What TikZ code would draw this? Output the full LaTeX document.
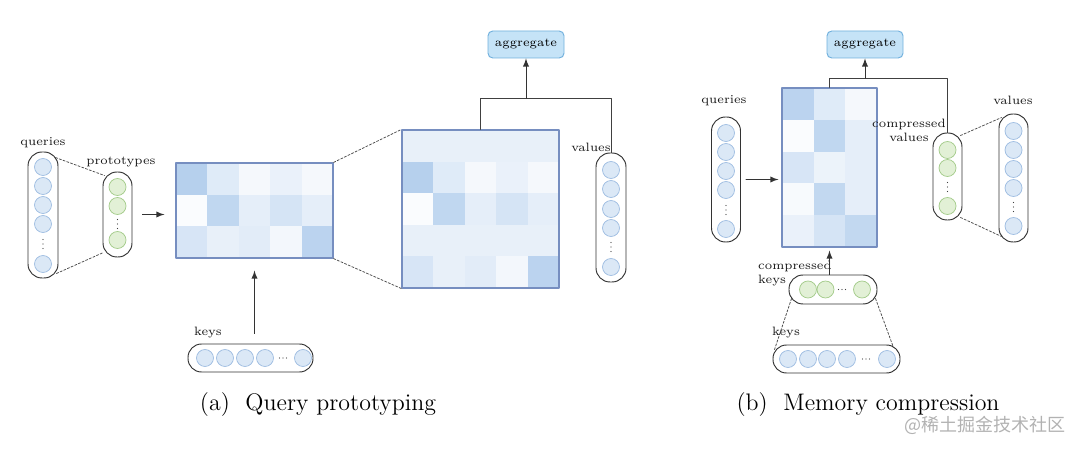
\documentclass[tikz,border=0pt]{standalone}
\usepackage{fontspec}
\usetikzlibrary{calc}
\newfontfamily\cjk{Noto Sans CJK SC}

\newcommand{\pxu}{0.018519cm}
\definecolor{cellb}{RGB}{150,188,230}
\definecolor{mborder}{RGB}{118,142,192}
\definecolor{qfill}{RGB}{219,232,246}
\definecolor{qline}{RGB}{160,190,226}
\definecolor{pfill}{RGB}{226,240,214}
\definecolor{pline}{RGB}{165,204,140}
\definecolor{aggfill}{RGB}{197,227,247}
\definecolor{aggline}{RGB}{112,176,221}

% small dots inside the vectors
\newcommand{\vdotsat}[2]{\foreach \d in {-1,0,1} \fill[black!75] (#1,#2+4.5*\d) circle (0.35pt);}
\newcommand{\hdotsat}[2]{\foreach \d in {-1,0,1} \fill[black!75] (#1+3.5*\d,#2) circle (0.35pt);}

\begin{document}
\begin{tikzpicture}
      [line cap=round,line join=round,x=0.018519cm,y=-0.018519cm,
       vec/.style={draw=black!80,line width=0.5pt,rounded corners=14*\pxu,inner sep=0pt},
       qcirc/.style={circle,draw=qline,fill=qfill,line width=0.4pt,minimum size=17*\pxu,inner sep=0pt},
       pcirc/.style={qcirc,draw=pline,fill=pfill},
       lbl/.style={font=\fontsize{6.4}{7.4}\selectfont,text=black!90,inner sep=1pt},
       mat/.style={draw=mborder,line width=0.6pt,inner sep=0pt},
       aggbox/.style={draw=aggline,fill=aggfill,line width=0.5pt,rounded corners=2.5pt,
         minimum width=76*\pxu,minimum height=27*\pxu,inner sep=0pt,font=\fontsize{6.4}{7.4}\selectfont},
       conn/.style={draw=black!75,line width=0.5pt},
       flow/.style={-latex,draw=black!80,line width=0.5pt},
       zoomline/.style={draw=black!70,line width=0.4pt,dash pattern=on 1.2pt off 0.9pt},
       capt/.style={font=\fontsize{12.6}{14}\selectfont,inner sep=0pt}]
\useasboundingbox (0,0) rectangle (1080,449);

%%%%%%%%%% (a) query prototyping

%queries and prototypes
  \node[vec,minimum width=30*\pxu,minimum height=126*\pxu] (q1) at (43,215) {};
  \foreach \yy [count=\n] in {167,186,205,224,264} \node[qcirc] (q1\n) at (43,\yy) {};
  \vdotsat{43}{244}
  \node[lbl] (q1l) at (43,143) {queries};

  \node[vec,minimum width=29*\pxu,minimum height=85*\pxu] (p1) at (117.5,214.5) {};
  \foreach \yy [count=\n] in {187,206,240} \node[pcirc] (p1\n) at (117.5,\yy) {};
  \vdotsat{117.5}{224}
  \node[lbl] (p1l) at (121,162) {prototypes};

  \draw[zoomline] ($(q1.north east)+(-3,6)$) -- ($(p1.north west)+(2,4)$);
  \draw[zoomline] ($(q1.south east)+(-2,-5)$) -- ($(p1.south west)+(1,-5)$);

%small attention map
  \foreach \row [count=\j from 0] in {{70,30,10,20,10},{5,60,25,40,25},{38,22,28,12,65}}
    \foreach \v [count=\i from 0] in \row
      \fill[cellb!\v] (176+31.4*\i,163+31.67*\j) rectangle ++(31.4,31.67);
  \node[mat,minimum width=157*\pxu,minimum height=95*\pxu] (sm) at (254.5,210.5) {};

  \draw[flow,shorten <=10*\pxu,shorten >=11*\pxu] (p1.east) -- (p1.east -| sm.west);

%zoomed attention map
  \foreach \row [count=\j from 0] in {{22,22,22,22,22},{70,30,10,20,10},{5,60,25,40,25},{22,22,22,22,22},{38,22,28,12,65}}
    \foreach \v [count=\i from 0] in \row
      \fill[cellb!\v] (402+31.4*\i,130+31.6*\j) rectangle ++(31.4,31.6);
  \node[mat,minimum width=157*\pxu,minimum height=158*\pxu] (bg) at (480.5,209) {};

  \draw[zoomline] (sm.north east) -- (bg.north west);
  \draw[zoomline] (sm.south east) -- (bg.south west);

%keys
  \node[vec,rounded corners=13.5*\pxu,minimum width=125*\pxu,minimum height=28*\pxu] (k1) at (250.5,358) {};
  \foreach \xx [count=\n] in {205,225,245,265,303} \node[qcirc] (k1\n) at (\xx,358) {};
  \hdotsat{283}{358}
  \node[lbl] (k1l) at (208,333) {keys};
  \draw[flow,shorten <=10*\pxu,shorten >=12*\pxu] (sm.south |- k1.north) -- (sm.south);

%values and aggregate
  \node[vec,minimum width=30*\pxu,minimum height=129*\pxu] (v1) at (611,217.5) {};
  \foreach \yy [count=\n] in {170,189,209,228,267} \node[qcirc] (v1\n) at (611,\yy) {};
  \vdotsat{611}{247}
  \node[lbl] (v1l) at (591,147) {values};

  \node[aggbox] (agg1) at (526,44.5) {aggregate};
  \draw[conn] (bg.north) -- ++(0,-31) coordinate (j1) -| (v1.north);
  \draw[flow] (agg1.south |- j1) -- (agg1.south);

  \node[capt] (ca) at (318,405) {(a)\ \ Query prototyping};

%%%%%%%%%% (b) memory compression

%attention map
  \foreach \row [count=\j from 0] in {{65,30,10},{5,60,25},{38,18,25},{8,58,25},{20,40,58}}
    \foreach \v [count=\i from 0] in \row
      \fill[cellb!\v] (782+31.67*\i,88+31.8*\j) rectangle ++(31.67,31.8);
  \node[mat,minimum width=95*\pxu,minimum height=159*\pxu] (bm) at (829.5,167.5) {};

%queries
  \node[vec,minimum width=29*\pxu,minimum height=125*\pxu] (q2) at (726,179.5) {};
  \foreach \yy [count=\n] in {133,152,171,190,229} \node[qcirc] (q2\n) at (726,\yy) {};
  \vdotsat{726}{210}
  \node[lbl] (q2l) at (724,101) {queries};
  \draw[flow,shorten <=5*\pxu,shorten >=3*\pxu] (q2.east) -- (q2.east -| bm.west);

%compressed values and values
  \node[vec,minimum width=29*\pxu,minimum height=87*\pxu] (cv) at (947.5,176.5) {};
  \foreach \yy [count=\n] in {150,168,206} \node[pcirc] (cv\n) at (947.5,\yy) {};
  \vdotsat{947.5}{187}
  \node[lbl,align=center] (cvl) at (909,130.5) {compressed\\values};

  \node[vec,minimum width=29*\pxu,minimum height=128*\pxu] (v2) at (1013.5,178) {};
  \foreach \yy [count=\n] in {131,150,169,188,226} \node[qcirc] (v2\n) at (1013.5,\yy) {};
  \vdotsat{1013.5}{207}
  \node[lbl] (v2l) at (1013,100) {values};

  \draw[zoomline] ($(cv.north east)+(-2,3)$) -- ($(v2.north west)+(3,4)$);
  \draw[zoomline] ($(cv.south east)+(-2,-3)$) -- ($(v2.south west)+(3,-6)$);

%compressed keys and keys
  \node[vec,minimum width=88*\pxu,minimum height=29*\pxu] (ck) at (833,289.5) {};
  \foreach \xx [count=\n] in {808,825.5,862} \node[pcirc] (ck\n) at (\xx,289.5) {};
  \hdotsat{842}{289.5}
  \node[lbl,align=left] (ckl) at (795,274) {compressed\\keys};
  \draw[flow,shorten >=3*\pxu] (bm.south |- ck.north) -- (bm.south);

  \node[vec,rounded corners=13.5*\pxu,minimum width=127*\pxu,minimum height=28*\pxu] (k2) at (836.5,359) {};
  \foreach \xx [count=\n] in {788,808,827,847,887} \node[qcirc] (k2\n) at (\xx,359) {};
  \hdotsat{866}{359}
  \node[lbl] (k2l) at (786,333) {keys};

  \draw[zoomline] ($(ck.south west)+(3,-6)$) -- ($(k2.north west)+(2,5)$);
  \draw[zoomline] ($(ck.south east)+(-2,-6)$) -- ($(k2.north east)+(-7,3)$);

%aggregate
  \node[aggbox] (agg2) at (865,44.5) {aggregate};
  \draw[conn] (bm.north) -- ++(0,-9) coordinate (j2) -| (cv.north);
  \draw[flow] (agg2.south |- j2) -- (agg2.south);

  \node[capt] (cb) at (868,405) {(b)\ \ Memory compression};

  \node[font=\cjk\fontsize{9.5}{11}\selectfont,text=black!30,inner sep=0pt] (wm) at (985,425) {@稀土掘金技术社区};

\end{tikzpicture}
\end{document}
